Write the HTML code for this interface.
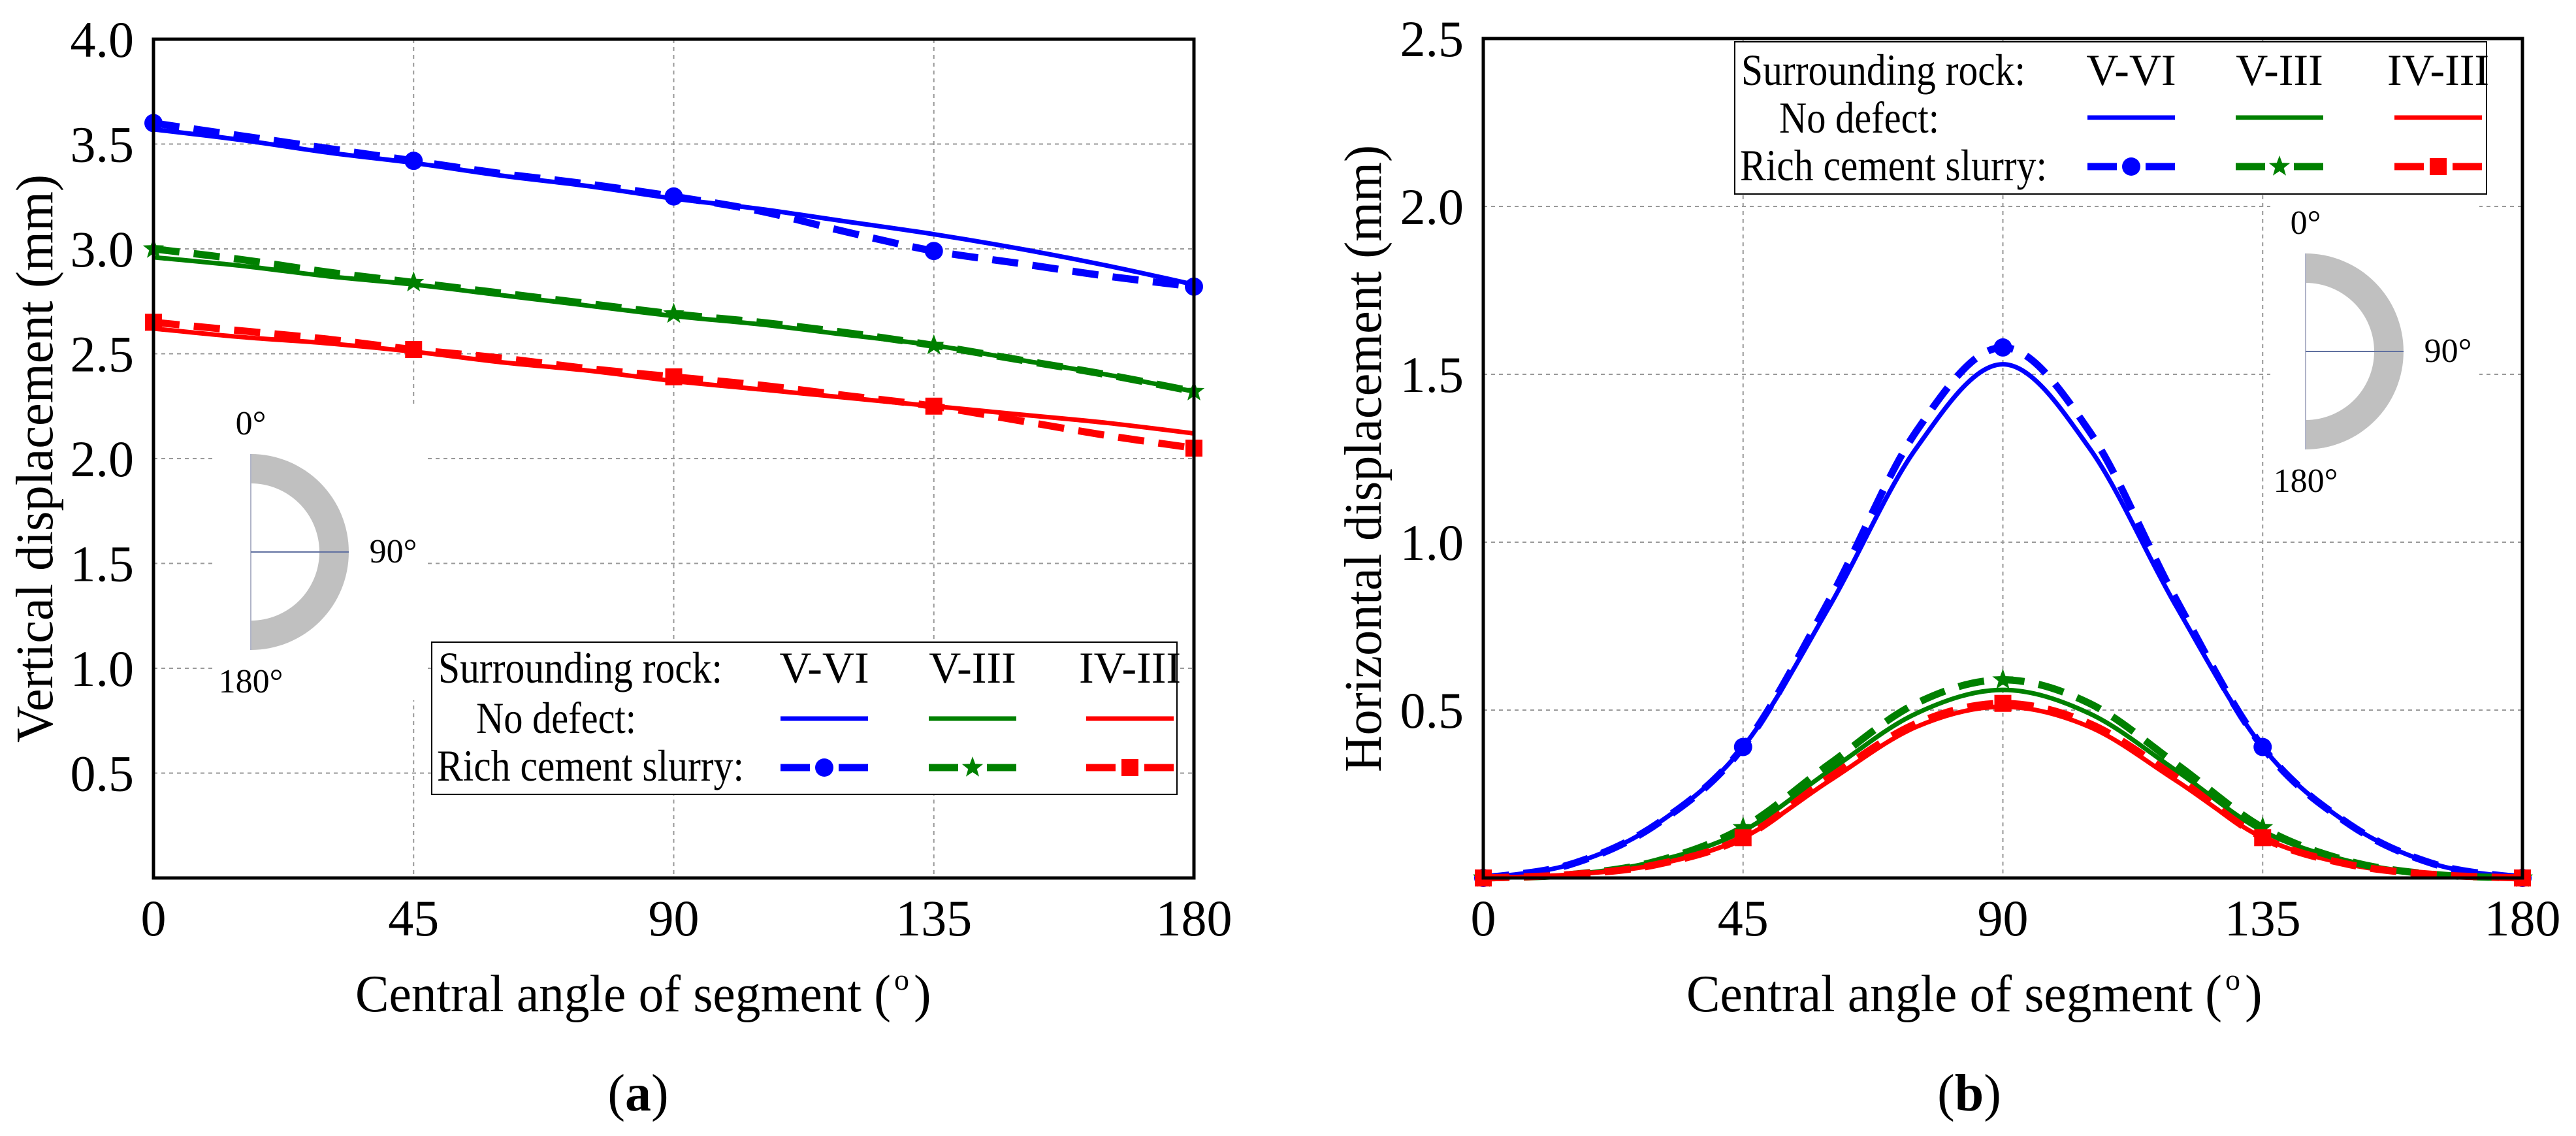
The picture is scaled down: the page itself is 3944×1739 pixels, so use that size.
<!DOCTYPE html>
<html><head><meta charset="utf-8">
<style>
html,body{margin:0;padding:0;background:#fff;}
svg{display:block;}
text{font-family:"Liberation Serif","DejaVu Serif",serif;fill:#000;}
</style></head>
<body>
<svg id="fig" width="3944" height="1739" viewBox="0 0 3944 1739" xmlns="http://www.w3.org/2000/svg" font-family="'Liberation Serif', 'DejaVu Serif', serif"></svg>
<script>
// ---------- data ----------
const angles = [0,15,30,45,60,75,90,105,120,135,150,165,180];
const markerAngles = [0,45,90,135,180];
// panel (a) vertical displacement
const vNoDefectVVI  = [3.57,3.52,3.46,3.41,3.35,3.30,3.24,3.19,3.13,3.07,3.00,2.92,2.83];
const vSlurryVVI    = [3.60,3.54,3.48,3.42,3.36,3.31,3.25,3.18,3.08,2.99,2.93,2.87,2.82];
const vNoDefectVIII = [2.96,2.92,2.87,2.83,2.78,2.73,2.68,2.64,2.59,2.54,2.47,2.40,2.32];
const vSlurryVIII   = [3.00,2.95,2.89,2.84,2.79,2.74,2.69,2.65,2.60,2.54,2.47,2.40,2.32];
const vNoDefectIVIII= [2.62,2.58,2.55,2.51,2.46,2.42,2.37,2.33,2.29,2.25,2.21,2.17,2.12];
const vSlurryIVIII  = [2.65,2.61,2.57,2.52,2.48,2.43,2.39,2.35,2.30,2.25,2.18,2.11,2.05];
// panel (b) horizontal displacement
const hNoDefectVVI  = [0,0.04,0.16,0.39,0.81,1.28,1.53,1.28,0.81,0.39,0.16,0.04,0];
const hSlurryVVI    = [0,0.04,0.16,0.39,0.83,1.33,1.58,1.33,0.83,0.39,0.16,0.04,0];
const hNoDefectVIII = [0,0.01,0.05,0.14,0.32,0.49,0.56,0.49,0.32,0.14,0.05,0.01,0];
const hSlurryVIII   = [0,0.01,0.05,0.15,0.34,0.52,0.59,0.52,0.34,0.15,0.05,0.01,0];
const hNoDefectIVIII= [0,0.01,0.04,0.12,0.29,0.45,0.51,0.45,0.29,0.12,0.04,0.01,0];
const hSlurryIVIII  = [0,0.01,0.04,0.12,0.30,0.46,0.52,0.46,0.30,0.12,0.04,0.01,0];
const xTicks = [0,45,90,135,180];
const yTicksA = ["0.5","1.0","1.5","2.0","2.5","3.0","3.5","4.0"];
const yTicksB = ["0.5","1.0","1.5","2.0","2.5"];

const NS="http://www.w3.org/2000/svg";
const FONT="'Liberation Serif', 'DejaVu Serif', serif";
const svg=document.getElementById('fig');
function mk(tag,attrs,parent){const e=document.createElementNS(NS,tag);for(const k in attrs)e.setAttribute(k,attrs[k]);(parent||svg).appendChild(e);return e;}
function txt(s,attrs,parent){const e=mk('text',attrs,parent);e.setAttribute('font-family',FONT);e.textContent=s;return e;}
function smooth(pts){let d=`M${pts[0][0]},${pts[0][1]}`;for(let i=0;i<pts.length-1;i++){const p0=pts[i-1]||pts[i],p1=pts[i],p2=pts[i+1],p3=pts[i+2]||p2;const c1=[p1[0]+(p2[0]-p0[0])/6,p1[1]+(p2[1]-p0[1])/6],c2=[p2[0]-(p3[0]-p1[0])/6,p2[1]-(p3[1]-p1[1])/6];d+=` C${c1[0]},${c1[1]} ${c2[0]},${c2[1]} ${p2[0]},${p2[1]}`;}return d;}
function marker(type,x,y,color,g){
  let e;
  if(type==='circle'){e=mk('circle',{cx:x,cy:y,r:14,fill:color},g);}
  else if(type==='square'){e=mk('rect',{x:x-13,y:y-13,width:26,height:26,fill:color},g);}
  else {let p=[];for(let i=0;i<10;i++){const r=i%2?7:17,a=-Math.PI/2+i*Math.PI/5;p.push((x+r*Math.cos(a)).toFixed(1)+','+(y+r*Math.sin(a)).toFixed(1));}e=mk('polygon',{points:p.join(' '),fill:color},g);}
  return e;
}

function panel(cfg){
  const g=mk('g',{});
  
  
  const X=v=>cfg.x0+(v/180)*(cfg.x1-cfg.x0);
  const Y=v=>cfg.y1-(v/cfg.ymax)*(cfg.y1-cfg.y0);
  xTicks.slice(1,-1).forEach(t=>{const l=mk('line',{x1:X(t),x2:X(t),y1:cfg.y0,y2:cfg.y1,stroke:'#999','stroke-width':2,'stroke-dasharray':'6 6'},g);});
  cfg.yTicks.forEach(t=>{const v=parseFloat(t);if(v>=cfg.ymax)return;const l=mk('line',{x1:cfg.x0,x2:cfg.x1,y1:Y(v),y2:Y(v),stroke:'#999','stroke-width':2,'stroke-dasharray':'6 6'},g);});
  const ins=mk('g',{},g);
  
  
  const ic=cfg.inset;
  mk('rect',{x:ic.cx-54,y:ic.cy-223,width:320,height:450,fill:'#fff'},ins);
  mk('path',{d:`M${ic.cx},${ic.cy-150} A150,150 0 0 1 ${ic.cx},${ic.cy+150} L${ic.cx},${ic.cy+105} A105,105 0 0 0 ${ic.cx},${ic.cy-105} Z`,fill:'#c0c0c0'},ins);
  mk('line',{x1:ic.cx,x2:ic.cx,y1:ic.cy-150,y2:ic.cy+150,stroke:'#b0b4c8','stroke-width':2},ins);
  mk('line',{x1:ic.cx,x2:ic.cx+150,y1:ic.cy,y2:ic.cy,stroke:'#6070a0','stroke-width':2},ins);
  txt('0°',{x:ic.cx,y:ic.cy-180,'font-size':52,'text-anchor':'middle'},ins);
  txt('90°',{x:ic.cx+218,y:ic.cy+16,'font-size':52,'text-anchor':'middle'},ins);
  txt('180°',{x:ic.cx,y:ic.cy+215,'font-size':52,'text-anchor':'middle'},ins);
  cfg.series.forEach(s=>{
    const pts=angles.map((a,i)=>[X(a),Y(s.values[i])]);
    const p=mk('path',{d:smooth(pts),fill:'none',stroke:s.color,'stroke-width':s.dashed?11:7,'stroke-dasharray':s.dashed?'40 22':'none'},g);
    
    
    if(s.marker){markerAngles.forEach(a=>{const i=angles.indexOf(a);const m=marker(s.marker,X(a),Y(s.values[i]),s.color,g);});}
  });
  const fr=mk('rect',{x:cfg.x0,y:cfg.y0,width:cfg.x1-cfg.x0,height:cfg.y1-cfg.y0,fill:'none',stroke:'#000','stroke-width':5},g);
  
  xTicks.forEach(t=>{const e=txt(String(t),{x:X(t),y:1432,'font-size':78,'text-anchor':'middle'},g);});
  cfg.yTicks.forEach(t=>{const e=txt(t,{x:cfg.x0-30,y:Y(parseFloat(t))+27,'font-size':78,'text-anchor':'end'},g);});
  const xt=txt('Central angle of segment (',{x:cfg.xtc-445,y:1548,'font-size':80,textLength:820,lengthAdjust:'spacingAndGlyphs'},g);
  
  txt('o',{x:cfg.xtc+380,y:1515,'font-size':46},g);
  txt(')',{x:cfg.xtc+410,y:1548,'font-size':80},g);
  const yt=txt(cfg.ytitle,{x:0,y:0,'font-size':80,'text-anchor':'middle',textLength:cfg.ylen,lengthAdjust:'spacingAndGlyphs',transform:`translate(${cfg.ytx},702) rotate(-90)`},g);
  
  const cap=mk('text',{x:cfg.capx,y:1700,'font-size':80,'text-anchor':'middle','font-family':FONT},g);
  cap.innerHTML=`(<tspan font-weight="bold">${cfg.cap}</tspan>)`;
  
  const L=cfg.leg;
  const lg=mk('g',{},g);
  
  
  mk('rect',{x:L.x,y:L.y,width:L.w,height:L.h,fill:'#fff',stroke:'#000','stroke-width':2},lg);
  txt('Surrounding rock:',{x:L.x+10,y:L.r1,'font-size':68,textLength:435,lengthAdjust:'spacingAndGlyphs'},lg);
  txt('No defect:',{x:L.x+68,y:L.r2,'font-size':68,textLength:245,lengthAdjust:'spacingAndGlyphs'},lg);
  txt('Rich cement slurry:',{x:L.x+8,y:L.r3,'font-size':68,textLength:470,lengthAdjust:'spacingAndGlyphs'},lg);
  const names=['V-VI','V-III','IV-III'],cols=['#0000ff','#008000','#ff0000'],mks=['circle','star','square'];
  L.cols.forEach((cx,i)=>{
    const e=txt(names[i],{x:cx,y:L.r1,'font-size':68,'text-anchor':'middle'},lg);
    
    mk('line',{x1:cx-67,x2:cx+67,y1:L.l1,y2:L.l1,stroke:cols[i],'stroke-width':7},lg);
    mk('line',{x1:cx-67,x2:cx-22,y1:L.l2,y2:L.l2,stroke:cols[i],'stroke-width':11},lg);
    mk('line',{x1:cx+22,x2:cx+67,y1:L.l2,y2:L.l2,stroke:cols[i],'stroke-width':11},lg);
    marker(mks[i],cx,L.l2,cols[i],lg);
  });
}

panel({name:'panel-a-vertical',x0:235,x1:1828,y0:60,y1:1344,ymax:4,yTicks:yTicksA,
  ytitle:'Vertical displacement (mm)',ytx:80,ylen:870,xtc:989,capx:977,cap:'a',
  inset:{cx:384,cy:845},
  leg:{x:661,y:983,w:1141,h:233,r1:1045,r2:1122,r3:1195,l1:1100,l2:1175,cols:[1262,1489,1730]},
  series:[
    {id:'vvi-no-defect',values:vNoDefectVVI,color:'#0000ff'},
    {id:'viii-no-defect',values:vNoDefectVIII,color:'#008000'},
    {id:'iviii-no-defect',values:vNoDefectIVIII,color:'#ff0000'},
    {id:'vvi-slurry',values:vSlurryVVI,color:'#0000ff',dashed:true,marker:'circle'},
    {id:'viii-slurry',values:vSlurryVIII,color:'#008000',dashed:true,marker:'star'},
    {id:'iviii-slurry',values:vSlurryIVIII,color:'#ff0000',dashed:true,marker:'square'}]});

panel({name:'panel-b-horizontal',x0:2271,x1:3862,y0:59,y1:1344,ymax:2.5,yTicks:yTicksB,
  ytitle:'Horizontal displacement (mm)',ytx:2114,ylen:960,xtc:3027,capx:3015,cap:'b',
  inset:{cx:3530,cy:538},
  leg:{x:2656,y:64,w:1151,h:233,r1:130,r2:203,r3:276,l1:180,l2:255,cols:[3263,3490,3733]},
  series:[
    {id:'vvi-no-defect',values:hNoDefectVVI,color:'#0000ff'},
    {id:'viii-no-defect',values:hNoDefectVIII,color:'#008000'},
    {id:'iviii-no-defect',values:hNoDefectIVIII,color:'#ff0000'},
    {id:'vvi-slurry',values:hSlurryVVI,color:'#0000ff',dashed:true,marker:'circle'},
    {id:'viii-slurry',values:hSlurryVIII,color:'#008000',dashed:true,marker:'star'},
    {id:'iviii-slurry',values:hSlurryIVIII,color:'#ff0000',dashed:true,marker:'square'}]});
</script>
</body></html>
